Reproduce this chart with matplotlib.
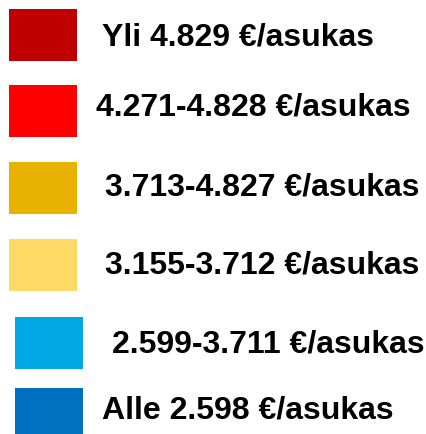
import matplotlib
matplotlib.use('Agg')
from matplotlib import pyplot as plt
from matplotlib.patches import Rectangle

# legend classes, top to bottom
labels = ['Yli 4.829 €/asukas', '4.271-4.828 €/asukas', '3.713-4.827 €/asukas',
          '3.155-3.712 €/asukas', '2.599-3.711 €/asukas', 'Alle 2.598 €/asukas']
colors = ['#C00000', '#FF0000', '#EAB200', '#FFD966', '#00A8E6', '#0070C0']

# layout in pixels (top-left origin)
box_x = [9, 9, 9, 9, 15, 15]
box_y = [10, 86, 163, 240, 318, 389]
text_x = [102, 96, 105, 105, 112, 102]
text_y = [37, 108, 188, 266, 345, 411]

fig = plt.figure(figsize=(4.26, 4.35), dpi=100)
ax = fig.add_axes([0, 0, 1, 1])
ax.set_xlim(0, 426)
ax.set_ylim(435, 0)
ax.axis('off')

for lab, col, bx, by, tx, ty in zip(labels, colors, box_x, box_y, text_x, text_y):
    ax.add_patch(Rectangle((bx, by), 68, 52, facecolor=col, edgecolor='none'))
    ax.text(tx, ty, lab, fontsize=23, fontweight='bold', family='Liberation Sans',
            va='center', ha='left', color='black')

fig.savefig('out.png', dpi=100)
